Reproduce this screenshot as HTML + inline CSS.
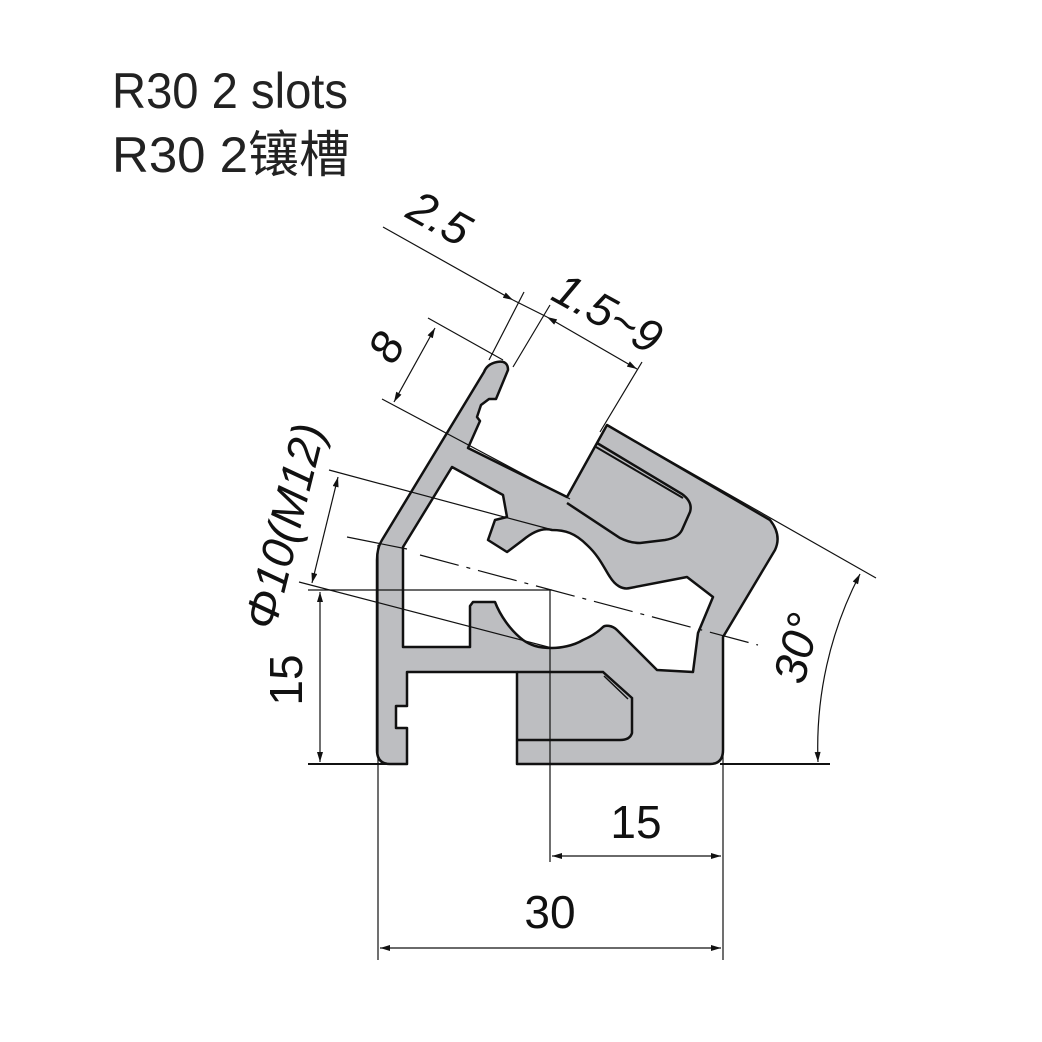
<!DOCTYPE html>
<html><head><meta charset="utf-8"><style>html,body{margin:0;padding:0;background:#fff}svg{display:block}</style></head>
<body>
<svg width="1042" height="1042" viewBox="0 0 1042 1042" xmlns="http://www.w3.org/2000/svg" font-family="'Liberation Sans','Noto Sans CJK SC',sans-serif">
<defs>
<marker id="a" viewBox="0 0 10 6" refX="10" refY="3" markerWidth="14" markerHeight="6" markerUnits="userSpaceOnUse" orient="auto-start-reverse"><path d="M0,0 L10,3 L0,6 z" fill="#111"/></marker>
</defs>
<rect width="1042" height="1042" fill="#fff"/>
<text x="112" y="108" font-size="50" fill="#222" textLength="236" lengthAdjust="spacingAndGlyphs">R30 2 slots</text>
<text x="112" y="172" font-size="50" fill="#222" textLength="238" lengthAdjust="spacingAndGlyphs">R30 2镶槽</text>

<!-- profile -->
<path d="M390,764 L407,764 L407,728 L396,728 L396,706 L407,706 L407,672 L517,672 L517,764 L710,764 Q723,764 723,750 L723,637 L775,550 Q782,535 770,520 L607,425 L567,497 L468,448 L480,421 L477,417 L481,405 L489,399 L496,399 L508,370 Q508,360 497,362 Q487,364 484,372 L382,540 Q377,548 377,560 L377,750 Q377,764 390,764 Z" fill="#bdbec1" stroke="#111" stroke-width="2.5" stroke-linejoin="round"/>
<path d="M452,467 L503,495 L507,517 L495,520 L488,540 L507,552 L523,540 C535,530 545,528 552,530 C565,530 575,533 587,545 C600,557 605,570 610,577 C615,585 622,590 630,588 L687,577 L713,597 L698,633 L693,672 L657,670 L617,630 C612,625 605,625 603,627 C598,632 590,637 583,640 C573,646 560,648 552,648 C538,648 530,645 523,640 C510,630 500,615 495,602 L473,602 L470,606 L470,647 L403,647 L403,547 Z" fill="#fff" stroke="#111" stroke-width="2.5" stroke-linejoin="round"/>
<path d="M597,443 L682,494 Q693,502 690,512 L682,530 Q678,538 665,540 L640,543 Q630,543 620,538 L567,503" fill="none" stroke="#111" stroke-width="2.5"/>
<path d="M596,447 L683,498" fill="none" stroke="#111" stroke-width="2"/>
<path d="M517,672 L603,672 L632,698 L632,733 Q630,740 620,740 L517,740" fill="none" stroke="#111" stroke-width="2.5"/>
<path d="M604,676 L628,699" fill="none" stroke="#111" stroke-width="1.5"/>

<g stroke="#111" stroke-width="1.2" fill="none">
<line x1="383" y1="227" x2="513" y2="300" marker-end="url(#a)"/>
<line x1="513" y1="300" x2="547" y2="317"/>
<line x1="547" y1="317" x2="637" y2="369" marker-start="url(#a)" marker-end="url(#a)"/>
<line x1="524" y1="292" x2="489" y2="360"/>
<line x1="550" y1="305" x2="513" y2="367"/>
<line x1="642" y1="362" x2="600" y2="432"/>
<line x1="428" y1="318" x2="503" y2="360"/>
<line x1="382" y1="399" x2="570" y2="499"/>
<line x1="435" y1="328" x2="394" y2="402" marker-start="url(#a)" marker-end="url(#a)"/>
<line x1="329" y1="470" x2="553" y2="530"/>
<line x1="299" y1="582" x2="552" y2="648"/>
<line x1="338" y1="477" x2="312" y2="583" marker-start="url(#a)" marker-end="url(#a)"/>
<line x1="347" y1="537" x2="407" y2="549"/>
<line x1="420" y1="555" x2="758" y2="645" stroke-dasharray="40,8,4,8"/>
<line x1="308" y1="590" x2="552" y2="590"/>
<line x1="320" y1="592" x2="320" y2="762" marker-start="url(#a)" marker-end="url(#a)"/>
<line x1="308" y1="764" x2="388" y2="764" stroke-width="2"/>
<line x1="720" y1="764" x2="830" y2="764" stroke-width="2"/>
<line x1="550" y1="590" x2="550" y2="862"/>
<line x1="378" y1="545" x2="378" y2="960"/>
<line x1="723" y1="637" x2="723" y2="960"/>
<line x1="552" y1="856" x2="721" y2="856" marker-start="url(#a)" marker-end="url(#a)"/>
<line x1="380" y1="948" x2="721" y2="948" marker-start="url(#a)" marker-end="url(#a)"/>
<line x1="607" y1="425" x2="876" y2="578"/>
<path d="M860,574 A376,376 0 0 0 818,762" marker-start="url(#a)" marker-end="url(#a)"/>
</g>

<g fill="#111" font-size="46">
<text x="636" y="838" text-anchor="middle">15</text>
<text x="550" y="928" text-anchor="middle">30</text>
<text transform="translate(302,680) rotate(-90)" text-anchor="middle">15</text>
<text transform="translate(300,530) rotate(-76)" text-anchor="middle" font-style="italic">Φ10(M12)</text>
<text transform="translate(812,652) rotate(-76)" text-anchor="middle" font-style="italic">30°</text>
<text transform="translate(432,232) rotate(29)" text-anchor="middle" font-style="italic">2.5</text>
<text transform="translate(600,327) rotate(29)" text-anchor="middle" font-style="italic">1.5~9</text>
<text transform="translate(400,355) rotate(-61)" text-anchor="middle" font-style="italic">8</text>
</g>
</svg>
</body></html>
